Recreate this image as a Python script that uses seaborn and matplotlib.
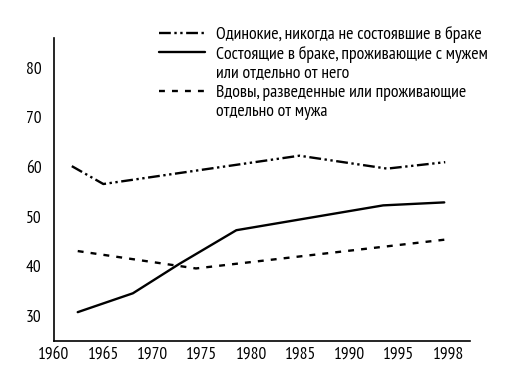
import pandas as pd
import seaborn as sns
import matplotlib.pyplot as plt
from matplotlib.lines import Line2D

years_single = [1961.8, 1965.0, 1984.9, 1993.8, 1999.7]
single = [60.2, 56.6, 62.3, 59.7, 61.0]

years_married = [1962.4, 1968.0, 1972.7, 1978.5, 1993.4, 1999.6]
married = [30.8, 34.6, 40.5, 47.3, 52.3, 52.9]

years_widowed = [1962.4, 1974.4, 2000.1]
widowed = [43.1, 39.6, 45.5]

tick_pos = [1960, 1965, 1970, 1975, 1980, 1985, 1990, 1995, 2000]
tick_labels = ['1960', '1965', '1970', '1975', '1980', '1985', '1990', '1995', '1998']
y_ticks = [30, 40, 50, 60, 70, 80]

labels = [
    'Одинокие, никогда не состоявшие в браке',
    'Состоящие в браке, проживающие с мужем',
    'или отдельно от него',
    'Вдовы, разведенные или проживающие',
    'отдельно от мужа',
]

sns.set_style('white')
plt.rcParams['font.family'] = ['PT Sans Narrow', 'Roboto Condensed', 'Archivo Narrow', 'DejaVu Sans']
plt.rcParams['font.stretch'] = 'condensed'
plt.rcParams['font.size'] = 12
plt.rcParams['text.color'] = 'black'

fig = plt.figure(figsize=(5.25, 3.69), dpi=100)
ax = fig.add_axes([0.103, 0.076, 0.792, 0.821])

df1 = pd.DataFrame({'year': years_single, 'value': single})
df2 = pd.DataFrame({'year': years_married, 'value': married})
df3 = pd.DataFrame({'year': years_widowed, 'value': widowed})

dashdot = (0, (5, 1.5, 1, 1.5, 1, 1.5))
dashed = (0, (2.5, 3))

sns.lineplot(data=df1, x='year', y='value', ax=ax, color='black', lw=1.7, linestyle=dashdot)
sns.lineplot(data=df2, x='year', y='value', ax=ax, color='black', lw=1.7)
sns.lineplot(data=df3, x='year', y='value', ax=ax, color='black', lw=1.7, linestyle=dashed)

ax.set_xlim(1960, 2002.2)
ax.set_ylim(25, 86)
ax.set_xticks(tick_pos)
ax.set_xticklabels(tick_labels)
ax.set_yticks(y_ticks)
ax.set_xlabel('')
ax.set_ylabel('')
ax.tick_params(axis='both', length=0, labelsize=12.5, colors='black')
ax.tick_params(axis='y', pad=9)
ax.tick_params(axis='x', pad=4)
sns.despine(ax=ax)
for s in ['left', 'bottom']:
    ax.spines[s].set_color('black')
    ax.spines[s].set_linewidth(1.2)

blank = Line2D([], [], linestyle='none')
handles = [
    Line2D([], [], color='black', lw=1.7, linestyle=dashdot),
    Line2D([], [], color='black', lw=1.7),
    blank,
    Line2D([], [], color='black', lw=1.7, linestyle=dashed),
    blank,
]
fig.legend(handles, labels, loc='upper left', bbox_to_anchor=(0.303, 0.93),
           frameon=False, borderpad=0, borderaxespad=0, handlelength=2.6,
           handletextpad=0.62, labelspacing=0.15, fontsize=12.8)

fig.savefig('out.png', dpi=100)
